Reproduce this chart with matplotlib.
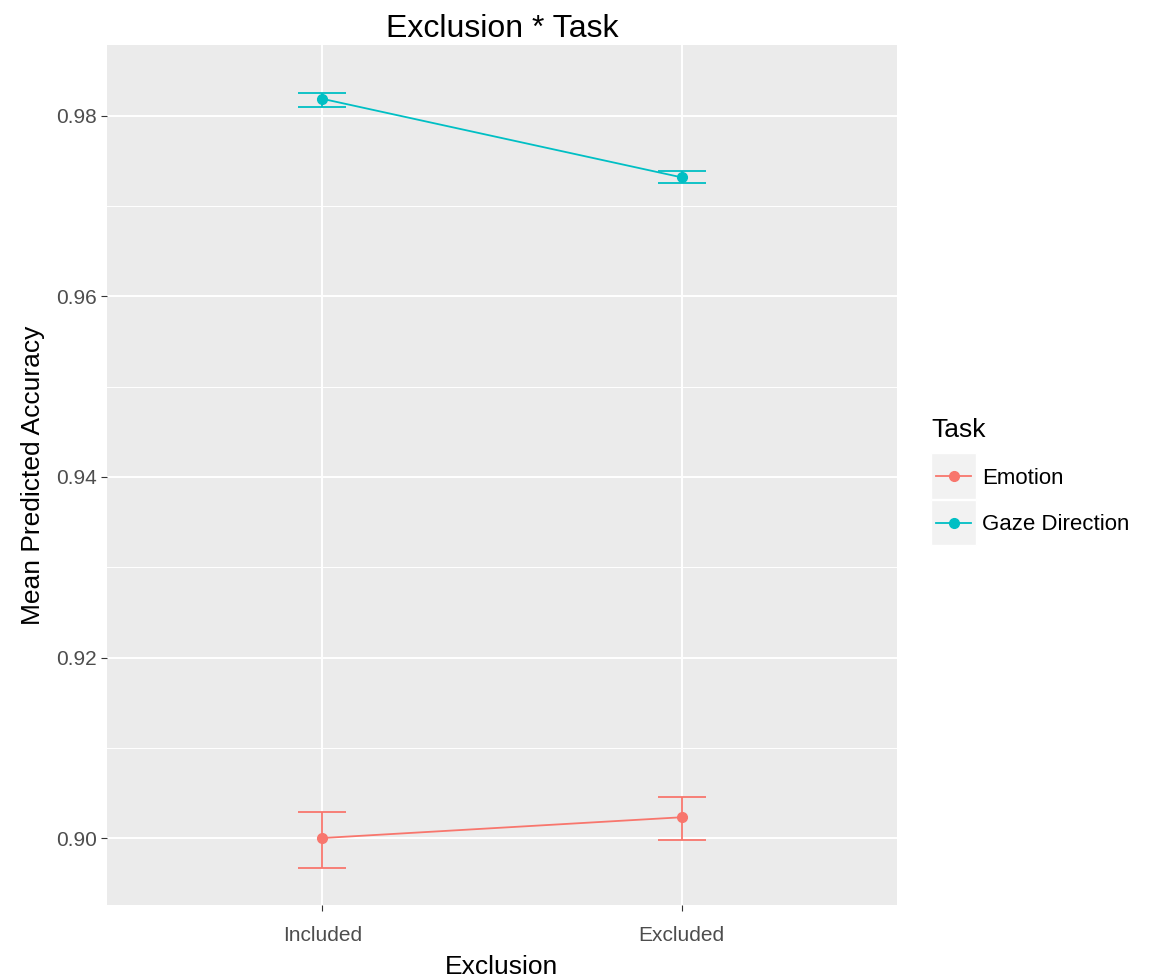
#!/usr/bin/env python3
import matplotlib
matplotlib.use('Agg')
import matplotlib.pyplot as plt
from matplotlib.lines import Line2D
from matplotlib.patches import Rectangle
from matplotlib.legend_handler import HandlerLine2D

'''
Exclusion x Task interaction: mean predicted accuracy with error bars
'''

plt.rcParams['font.family'] = ['Liberation Sans', 'DejaVu Sans']

exclusion = ['Included', 'Excluded']
tasks = ['Emotion', 'Gaze Direction']
colours = {'Emotion': '#F8766D', 'Gaze Direction': '#00BFC4'}

emotion_mean = [0.9000, 0.9023]
emotion_low = [0.8967, 0.8998]
emotion_high = [0.9029, 0.9046]

gaze_mean = [0.9819, 0.9732]
gaze_low = [0.9810, 0.9726]
gaze_high = [0.9826, 0.9739]

y_ticks = [0.90, 0.92, 0.94, 0.96, 0.98]


class HandlerKeyBox(HandlerLine2D):
    # legend key drawn on a grey square, like ggplot keys
    def create_artists(self, legend, orig_handle, xdescent, ydescent,
                       width, height, fontsize, trans):
        artists = super().create_artists(legend, orig_handle, xdescent, ydescent,
                                         width, height, fontsize, trans)
        # pull the key line in from the box edges, marker stays in the middle
        inset = 0.1 * width
        x0, x1 = -xdescent + inset, -xdescent + width - inset
        line = artists[0]
        ys = list(line.get_ydata())
        line.set_data([x0, (x0 + x1) / 2, x1], ys)
        pad = 0.95 * height
        box = Rectangle((-xdescent, -ydescent - pad), width, height + 2 * pad,
                        facecolor='#F2F2F2', edgecolor='white', linewidth=1.0,
                        transform=trans)
        return [box] + artists


def main():
    fig = plt.figure(figsize=(11.58, 9.77), dpi=100)
    ax = fig.add_axes([0.0924, 0.0737, 0.6822, 0.8803])
    ax.set_facecolor('#EBEBEB')

    x = [1, 2]
    series = {
        'Emotion': (emotion_mean, emotion_low, emotion_high),
        'Gaze Direction': (gaze_mean, gaze_low, gaze_high),
    }
    for task in tasks:
        mean, low, high = series[task]
        c = colours[task]
        err = [[m - l for m, l in zip(mean, low)], [h - m for m, h in zip(mean, high)]]
        ax.errorbar(x, mean, yerr=err, fmt='none', ecolor=c, elinewidth=1.3,
                    capsize=17, capthick=1.3, zorder=3)
        ax.plot(x, mean, color=c, linewidth=1.3, marker='o', markersize=7, zorder=4)

    ax.set_xlim(0.4, 2.6)
    ax.set_ylim(0.89258, 0.98787)
    ax.set_xticks(x)
    ax.set_xticklabels(exclusion)
    ax.set_yticks(y_ticks)
    ax.set_yticklabels(['%.2f' % v for v in y_ticks])
    ax.set_yticks([0.91, 0.93, 0.95, 0.97], minor=True)

    ax.grid(which='major', color='white', linewidth=1.4)
    ax.grid(which='minor', axis='y', color='white', linewidth=0.7)
    ax.set_axisbelow(True)
    for s in ax.spines.values():
        s.set_visible(False)
    ax.tick_params(axis='both', which='major', length=4, color='#333333',
                   labelcolor='#4D4D4D', labelsize=15)
    ax.tick_params(axis='x', which='major', pad=11)
    ax.tick_params(which='minor', length=0)

    ax.set_xlabel('Exclusion', fontsize=19, labelpad=7)
    ax.set_ylabel('Mean Predicted Accuracy', fontsize=19, labelpad=8)
    ax.set_title('Exclusion * Task', fontsize=23, pad=6)

    handles = [Line2D([], [], color=colours[t], linewidth=1.3, marker='o', markersize=7)
               for t in tasks]
    leg = fig.legend(handles, tasks, title='Task', loc='center left',
                     bbox_to_anchor=(0.787, 0.512), frameon=False, fontsize=16,
                     title_fontsize=19, handlelength=2.0, labelspacing=1.15,
                     handletextpad=0.3, handler_map={Line2D: HandlerKeyBox()})
    leg._legend_box.align = 'left'

    fig.savefig('out.png', dpi=100)


if __name__ == '__main__':
    main()
